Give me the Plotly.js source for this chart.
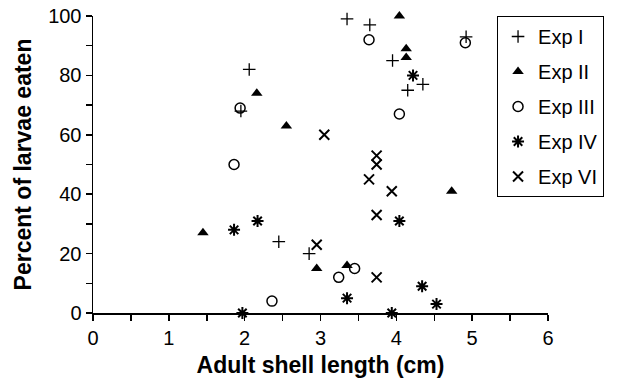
<!DOCTYPE html>
<html>
<head>
<meta charset="utf-8">
<script src="https://cdn.plot.ly/plotly-3.0.1.min.js"></script>
<style>
  html, body { margin: 0; padding: 0; background: #fff; }
  #chart { width: 617px; height: 387px; }
</style>
</head>
<body>
<div id="chart"></div>
<script>
// Series names
const seriesNames = ["Exp I", "Exp II", "Exp III", "Exp IV", "Exp VI"];

// Exp I (+)
const expI_x = [1.95, 2.06, 2.45, 2.85, 3.35, 3.65, 3.95, 4.15, 4.35, 4.92];
const expI_y = [68, 82, 24, 20, 99, 97, 85, 75, 77, 93];

// Exp II (filled triangle)
const expII_x = [1.45, 2.16, 2.55, 2.95, 3.35, 4.04, 4.13, 4.13, 4.73];
const expII_y = [27, 74, 63, 15, 16, 100, 89, 86, 41];

// Exp III (open circle)
const expIII_x = [1.86, 1.94, 2.36, 3.24, 3.45, 3.64, 4.04, 4.91];
const expIII_y = [50, 69, 4, 12, 15, 92, 67, 91];

// Exp IV (asterisk)
const expIV_x = [1.86, 1.97, 2.17, 3.35, 3.94, 4.04, 4.22, 4.34, 4.53];
const expIV_y = [28, 0, 31, 5, 0, 31, 80, 9, 3];

// Exp VI (x)
const expVI_x = [2.95, 3.05, 3.64, 3.74, 3.74, 3.74, 3.74, 3.94];
const expVI_y = [23, 60, 45, 53, 50, 33, 12, 41];

// Axis ticks
const xTicks = [0, 1, 2, 3, 4, 5, 6];
const yTicks = [0, 20, 40, 60, 80, 100];

const FONT = "Arial, 'Liberation Sans', sans-serif";

function mk(name, xs, ys, symbol, size, lw) {
  return {
    type: "scatter", mode: "markers", name: name, legendgroup: name,
    x: xs, y: ys, cliponaxis: false,
    marker: { symbol: symbol, size: size, color: "#000",
              line: { color: "#000", width: lw } }
  };
}

const data = [
  mk(seriesNames[0], expI_x, expI_y, "cross-thin-open", 9, 1.3),
  mk(seriesNames[1], expII_x, expII_y, "triangle-up", 10, 0),
  mk(seriesNames[2], expIII_x, expIII_y, "circle-open", 10, 1.5),
  mk(seriesNames[3], expIV_x, expIV_y, "asterisk-open", 10, 2),
  mk(seriesNames[4], expVI_x, expVI_y, "x-thin-open", 10, 2)
];

const layout = {
  width: 617, height: 387,
  margin: { l: 93, r: 69, t: 16, b: 74, pad: 0 },
  paper_bgcolor: "#fff", plot_bgcolor: "#fff",
  font: { family: FONT, color: "#000", size: 18 },
  showlegend: true,
  legend: {
    x: 0.888, y: 1, xanchor: "left", yanchor: "top",
    bgcolor: "#fff", bordercolor: "#000", borderwidth: 1,
    font: { family: FONT, size: 20, color: "#000" },
    traceorder: "grouped", tracegroupgap: 6
  },
  xaxis: {
    range: [0, 6], tickvals: xTicks, ticktext: xTicks.map(String),
    showgrid: false, zeroline: false,
    showline: true, linecolor: "#000", linewidth: 1.5,
    ticks: "outside", ticklen: 6, tickwidth: 1.5, tickcolor: "#000",
    tickfont: { family: FONT, size: 20, color: "#000" },
    minor: { dtick: 0.5, ticks: "outside", ticklen: 6, tickwidth: 1.5, tickcolor: "#000", showgrid: false },
    title: { text: "<b>Adult shell length (cm)</b>", font: { family: FONT, size: 23, color: "#000" }, standoff: 9 }
  },
  yaxis: {
    range: [0, 100], tickvals: yTicks, ticktext: yTicks.map(String),
    showgrid: false, zeroline: false,
    showline: true, linecolor: "#000", linewidth: 1.5,
    ticks: "outside", ticklen: 6, tickwidth: 1.5, tickcolor: "#000",
    tickfont: { family: FONT, size: 20, color: "#000" },
    minor: { dtick: 10, ticks: "outside", ticklen: 6, tickwidth: 1.5, tickcolor: "#000", showgrid: false },
    title: { text: "<b>Percent of larvae eaten</b>", font: { family: FONT, size: 23, color: "#000" }, standoff: 10 }
  }
};

Plotly.newPlot("chart", data, layout, { displayModeBar: false, staticPlot: true });
</script>
</body>
</html>
